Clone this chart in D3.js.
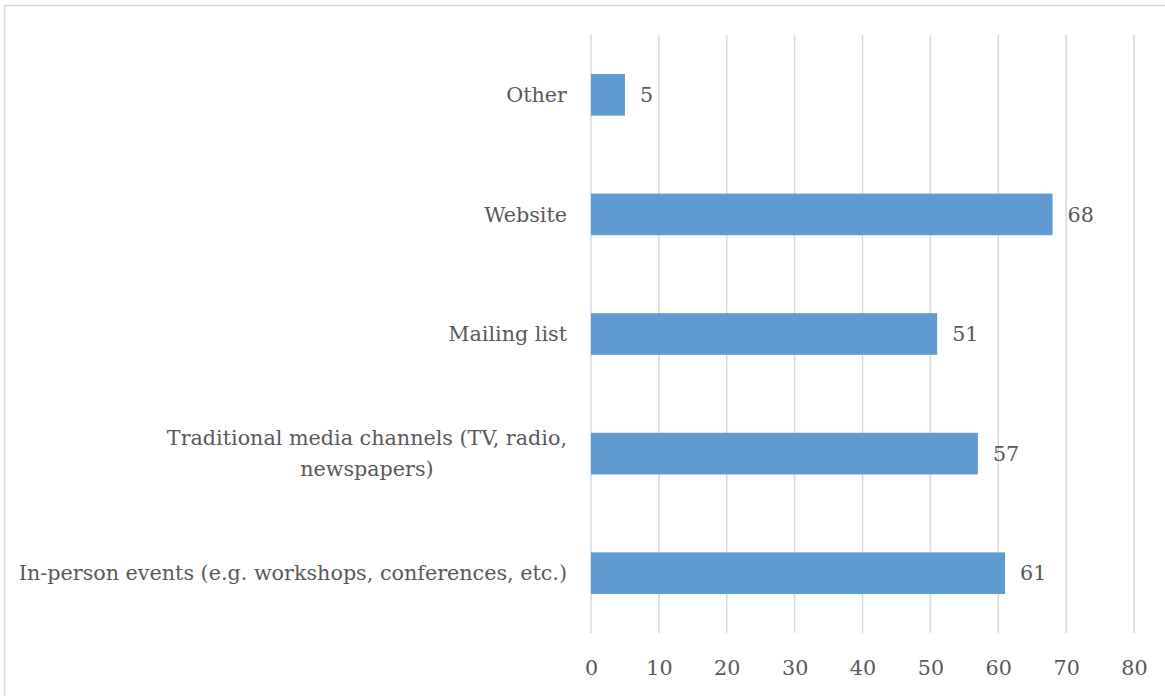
<!DOCTYPE html>
<html>
<head>
<meta charset="utf-8">
<script src="https://cdn.jsdelivr.net/npm/d3@7"></script>
<style>
  html, body { margin: 0; padding: 0; background: #fff; }
  svg { display: block; }
  text { font-family: "DejaVu Serif", "Liberation Serif", serif; fill: #595959; }
</style>
</head>
<body>
<svg id="chart" width="1165" height="696"></svg>
<script>
// Channels, listed top to bottom; "|" marks a line break in the label
const categories = [
  "Other",
  "Website",
  "Mailing list",
  "Traditional media channels (TV, radio,|newspapers)",
  "In-person events (e.g. workshops, conferences, etc.)"
];
const values = [5, 68, 51, 57, 61];
const xTicks = [0, 10, 20, 30, 40, 50, 60, 70, 80];

const svg = d3.select("#chart");
const W = 1165, H = 696;
const margin = { left: 591, right: 31, top: 35, bottom: 63 };
const fontSize = 20.7;

// outer chart frame
svg.append("rect")
  .attr("x", 4.5).attr("y", 5.5)
  .attr("width", W + 10).attr("height", H + 10)
  .attr("fill", "none").attr("stroke", "#d9d9d9").attr("stroke-width", 1.5);

const x = d3.scaleLinear().domain([0, 80]).range([margin.left, W - margin.right]);
const y = d3.scaleBand().domain(categories).range([margin.top, H - margin.bottom]).paddingInner(0.652).paddingOuter(0.326);

// vertical gridlines
svg.append("g").selectAll("line").data(xTicks).join("line")
  .attr("x1", d => x(d)).attr("x2", d => x(d))
  .attr("y1", margin.top).attr("y2", H - margin.bottom)
  .attr("stroke", "#d9d9d9").attr("stroke-width", 1.5);

// x axis tick labels
const xAxis = d3.axisBottom(x).tickValues(xTicks).tickSize(0).tickPadding(0);
const gx = svg.append("g").attr("transform", `translate(0,${H - margin.bottom})`).call(xAxis);
gx.select(".domain").remove();
gx.attr("font-family", null).attr("font-size", null);
gx.selectAll("text")
  .attr("y", 35).attr("dy", "0.35em")
  .attr("font-size", fontSize)
  .attr("fill", "#595959");

// bars
svg.append("g").selectAll("rect").data(values).join("rect")
  .attr("x", x(0))
  .attr("y", (d, i) => y(categories[i]))
  .attr("width", d => x(d) - x(0))
  .attr("height", y.bandwidth())
  .attr("fill", "#5f9bd1");

// value labels
svg.append("g").selectAll("text").data(values).join("text")
  .attr("x", d => x(d) + 15)
  .attr("y", (d, i) => y(categories[i]) + y.bandwidth() / 2)
  .attr("dy", "0.35em")
  .attr("font-size", fontSize)
  .text(d => d);

// category labels: right-aligned block, wrapped lines centred within the block
const labelRight = margin.left - 24;
const lineH = 31;
categories.forEach(c => {
  const lines = c.split("|");
  const cy = y(c) + y.bandwidth() / 2;
  const t = svg.append("text").attr("font-size", fontSize);
  lines.forEach((ln, k) => {
    t.append("tspan").text(ln)
      .attr("y", cy + (k - (lines.length - 1) / 2) * lineH)
      .attr("dy", "0.35em");
  });
  if (lines.length === 1) {
    t.attr("text-anchor", "end").selectAll("tspan").attr("x", labelRight);
  } else {
    let maxW = 0;
    t.selectAll("tspan").each(function () { maxW = Math.max(maxW, this.getComputedTextLength()); });
    t.attr("text-anchor", "middle").selectAll("tspan").attr("x", labelRight - maxW / 2);
  }
});
</script>
</body>
</html>
